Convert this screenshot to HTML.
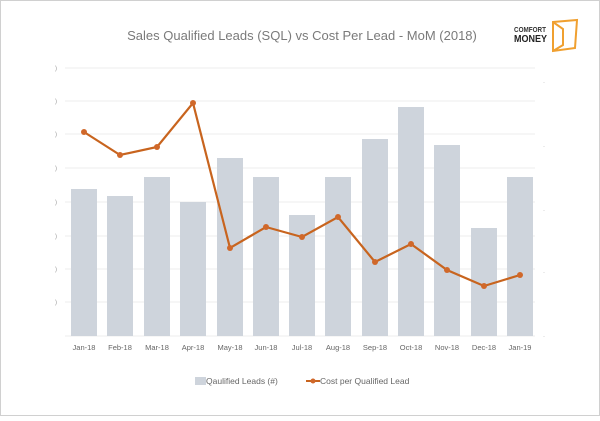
<!DOCTYPE html>
<html><head><style>
body{margin:0;background:#fff;}
</style></head><body>
<svg width="600" height="416" xmlns="http://www.w3.org/2000/svg" font-family="Liberation Sans, sans-serif">
<rect x="0.5" y="0.5" width="599" height="415" fill="#fff" stroke="#d0d0d0"/>
<text x="302" y="40" text-anchor="middle" font-size="13" fill="#7a7a7a">Sales Qualified Leads (SQL) vs Cost Per Lead - MoM (2018)</text>
<text x="514" y="32" font-size="7" font-weight="bold" fill="#333" textLength="32" lengthAdjust="spacingAndGlyphs">COMFORT</text>
<text x="514" y="42" font-size="10" font-weight="bold" fill="#222" textLength="33" lengthAdjust="spacingAndGlyphs">MONEY</text>
<path d="M553 22 L577 20 L575 48 L553 51 Z M553 22 L563 29 L563 45 L553 51" fill="none" stroke="#f0a030" stroke-width="2"/>
<g stroke="#ececec" stroke-width="1">
<line x1="65" x2="535" y1="68" y2="68"/><line x1="65" x2="535" y1="101" y2="101"/>
<line x1="65" x2="535" y1="134" y2="134"/><line x1="65" x2="535" y1="168" y2="168"/>
<line x1="65" x2="535" y1="202" y2="202"/><line x1="65" x2="535" y1="236" y2="236"/>
<line x1="65" x2="535" y1="269" y2="269"/><line x1="65" x2="535" y1="302" y2="302"/>
<line x1="65" x2="535" y1="336" y2="336"/>
</g>
<g font-size="6" fill="#999">
<text x="55" y="70">)</text><text x="55" y="103">)</text><text x="55" y="136">)</text><text x="55" y="170">)</text><text x="55" y="204">)</text><text x="55" y="238">)</text><text x="55" y="271">)</text><text x="55" y="304">)</text>
<text x="543" y="84">·</text><text x="543" y="148">·</text><text x="543" y="212">·</text><text x="543" y="274">·</text><text x="543" y="338">·</text>
</g>
<g fill="#ced4dc">
<rect x="71" y="189" width="26" height="147"/>
<rect x="107" y="196" width="26" height="140"/>
<rect x="144" y="177" width="26" height="159"/>
<rect x="180" y="202" width="26" height="134"/>
<rect x="217" y="158" width="26" height="178"/>
<rect x="253" y="177" width="26" height="159"/>
<rect x="289" y="215" width="26" height="121"/>
<rect x="325" y="177" width="26" height="159"/>
<rect x="362" y="139" width="26" height="197"/>
<rect x="398" y="107" width="26" height="229"/>
<rect x="434" y="145" width="26" height="191"/>
<rect x="471" y="228" width="26" height="108"/>
<rect x="507" y="177" width="26" height="159"/>
</g>
<polyline fill="none" stroke="#c8641e" stroke-width="2.2" points="84,132 120,155 157,147 193,103 230,248 266,227 302,237 338,217 375,262 411,244 447,270 484,286 520,275"/>
<g fill="#d0682a">
<circle cx="84" cy="132" r="3"/><circle cx="120" cy="155" r="3"/><circle cx="157" cy="147" r="3"/><circle cx="193" cy="103" r="3"/><circle cx="230" cy="248" r="3"/><circle cx="266" cy="227" r="3"/><circle cx="302" cy="237" r="3"/><circle cx="338" cy="217" r="3"/><circle cx="375" cy="262" r="3"/><circle cx="411" cy="244" r="3"/><circle cx="447" cy="270" r="3"/><circle cx="484" cy="286" r="3"/><circle cx="520" cy="275" r="3"/>
</g>
<g font-size="7.5" fill="#666" text-anchor="middle">
<text x="84" y="350">Jan-18</text><text x="120" y="350">Feb-18</text><text x="157" y="350">Mar-18</text><text x="193" y="350">Apr-18</text><text x="230" y="350">May-18</text><text x="266" y="350">Jun-18</text><text x="302" y="350">Jul-18</text><text x="338" y="350">Aug-18</text><text x="375" y="350">Sep-18</text><text x="411" y="350">Oct-18</text><text x="447" y="350">Nov-18</text><text x="484" y="350">Dec-18</text><text x="520" y="350">Jan-19</text>
</g>
<rect x="195" y="377" width="11" height="8" fill="#ced4dc"/>
<text x="206" y="384" font-size="8.5" fill="#666">Qaulified Leads (#)</text>
<line x1="306" x2="320" y1="381" y2="381" stroke="#c8641e" stroke-width="2"/>
<circle cx="313" cy="381" r="2.5" fill="#d0682a"/>
<text x="320" y="384" font-size="8.5" fill="#666">Cost per Qualified Lead</text>
</svg>
</body></html>
